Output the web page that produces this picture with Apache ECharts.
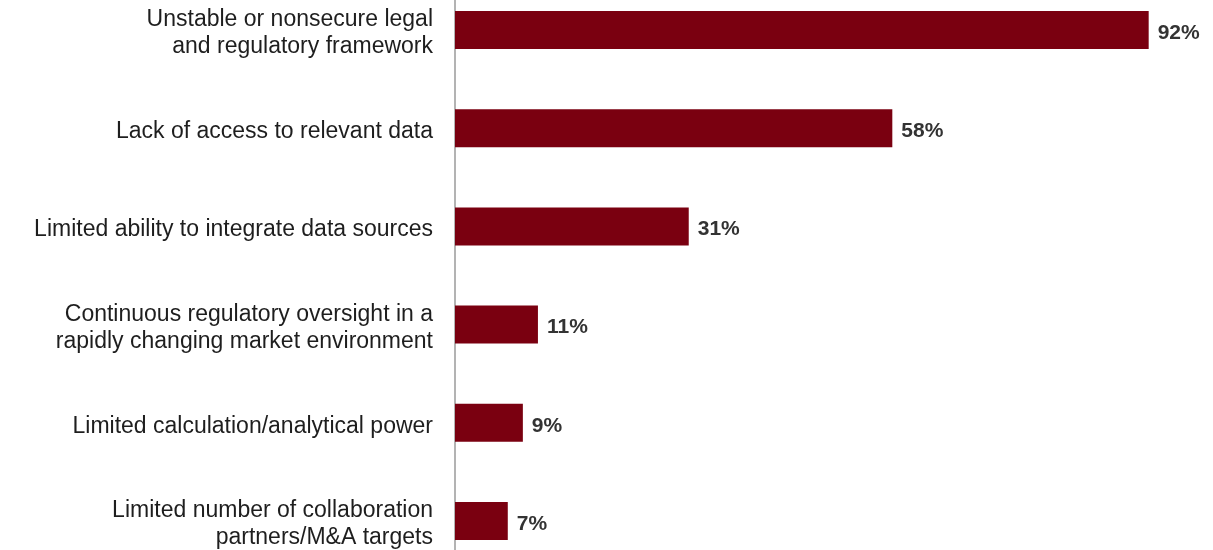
<!DOCTYPE html>
<html>
<head>
<meta charset="utf-8">
<script src="https://cdn.jsdelivr.net/npm/echarts@6/dist/echarts.min.js"></script>
<style>
  html, body { margin: 0; padding: 0; background: #fff; overflow: hidden; }
  /* plot runs past the window top and bottom, like the cropped original */
  #main { width: 1213px; height: 589px; margin-top: -19px; }
</style>
</head>
<body>
<div id="main"></div>
<script>
// challenges, top to bottom
const categories = [
  'Unstable or nonsecure legal\nand regulatory framework',
  'Lack of access to relevant data',
  'Limited ability to integrate data sources',
  'Continuous regulatory oversight in a\nrapidly changing market environment',
  'Limited calculation/analytical power',
  'Limited number of collaboration\npartners/M&A targets'
];
const shares = [92, 58, 31, 11, 9, 7];

const myChart = echarts.init(document.getElementById('main'));

myChart.setOption({
  animation: false,
  grid: { left: 455, right: 4, top: 0, bottom: 0, containLabel: false },
  xAxis: {
    type: 'value',
    min: 0,
    max: 100,
    show: false
  },
  yAxis: {
    type: 'category',
    inverse: true,
    data: categories,
    axisTick: { show: false },
    axisLine: { show: true, lineStyle: { color: '#9a9a9a', width: 1.5 } },
    axisLabel: {
      margin: 22,
      align: 'right',
      // small blank line on top nudges the text a few px down
      formatter: v => '{s| }\n' + v.split('\n').map(l => '{t|' + l + '}').join('\n'),
      rich: {
        s: { fontSize: 6, lineHeight: 7 },
        t: {
          fontFamily: 'Liberation Sans, Arial, sans-serif',
          fontSize: 23,
          lineHeight: 27,
          color: '#1e1e1e',
          align: 'right'
        }
      }
    }
  },
  series: [{
    type: 'bar',
    data: shares,
    barWidth: 38,
    itemStyle: { color: '#7a0010' },
    label: {
      show: true,
      position: 'right',
      distance: 9,
      offset: [0, 3],
      formatter: '{c}%',
      fontFamily: 'Liberation Sans, Arial, sans-serif',
      fontSize: 21,
      fontWeight: 'bold',
      color: '#333'
    }
  }]
});
</script>
</body>
</html>
